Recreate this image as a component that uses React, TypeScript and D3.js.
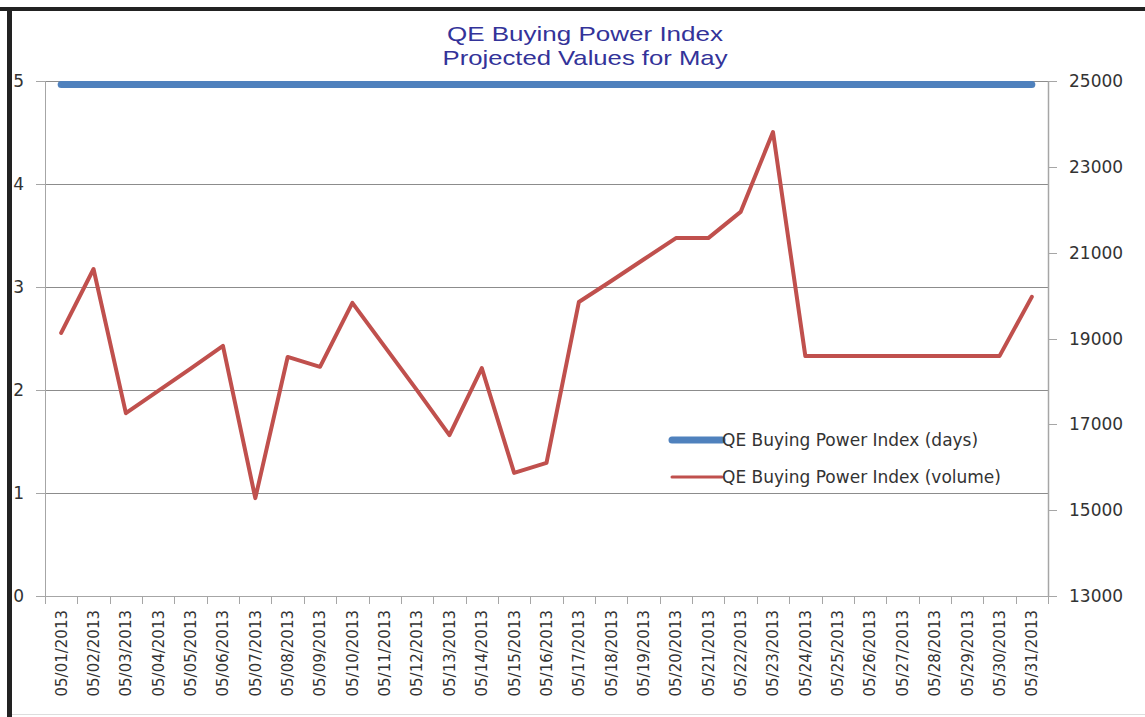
import * as d3 from "d3";

const dates = [
  "05/01/2013", "05/02/2013", "05/03/2013", "05/04/2013", "05/05/2013",
  "05/06/2013", "05/07/2013", "05/08/2013", "05/09/2013", "05/10/2013",
  "05/11/2013", "05/12/2013", "05/13/2013", "05/14/2013", "05/15/2013",
  "05/16/2013", "05/17/2013", "05/18/2013", "05/19/2013", "05/20/2013",
  "05/21/2013", "05/22/2013", "05/23/2013", "05/24/2013", "05/25/2013",
  "05/26/2013", "05/27/2013", "05/28/2013", "05/29/2013", "05/30/2013",
  "05/31/2013",
];

// QE Buying Power Index (days) - left axis
const days = [
  5, 5, 5, 5, 5, 5, 5, 5, 5, 5, 5, 5, 5, 5, 5, 5,
  5, 5, 5, 5, 5, 5, 5, 5, 5, 5, 5, 5, 5, 5, 5,
];

// QE Buying Power Index (volume) - right axis
const volume = [
  19130, 20620, 17260, 17780, 18300, 18830, 15280, 18570, 18340, 19830,
  18810, 17790, 16750, 18310, 15870, 16100, 19850, 20340, 20840, 21340,
  21340, 21950, 23810, 18590, 18590, 18590, 18590, 18590, 18590, 18590,
  19970,
];

const leftTicks = [0, 1, 2, 3, 4, 5];
const rightTicks = [13000, 15000, 17000, 19000, 21000, 23000, 25000];

const titleLines = ["QE Buying Power Index", "Projected Values for May"];
const seriesNames = [
  "QE Buying Power Index (days)",
  "QE Buying Power Index (volume)",
];

const W = 1145;
const H = 717;
const plot = { left: 45, right: 1048, top: 81, bottom: 596 };
const font = "'DejaVu Sans', Verdana, sans-serif";
const blue = "#4f81bd";
const red = "#c0504d";

export default function App() {
  const x = d3
    .scaleBand()
    .domain(dates)
    .range([plot.left, plot.right])
    .padding(0);
  const cx = (d) => x(d) + x.bandwidth() / 2;

  const yL = d3.scaleLinear().domain([0, 5]).range([plot.bottom, plot.top]);
  const yR = d3
    .scaleLinear()
    .domain([13000, 25000])
    .range([plot.bottom, plot.top]);

  const daysLine = d3
    .line()
    .x((_, i) => cx(dates[i]))
    .y((d) => yL(d));
  const volLine = d3
    .line()
    .x((_, i) => cx(dates[i]))
    .y((d) => yR(d));

  const boundaries = dates.map((d) => x(d)).concat([plot.right]);

  return (
    <svg
      width={W}
      height={H}
      style={{ position: "absolute", left: 0, top: 0, background: "#fff" }}
    >
      {/* frame */}
      <line x1={0} x2={W} y1={9} y2={9} stroke="#222" strokeWidth={4} />
      <line x1={9.5} x2={9.5} y1={7} y2={H} stroke="#222" strokeWidth={5} />
      <line x1={12} x2={W} y1={714.5} y2={714.5} stroke="#ddd" strokeWidth={1} />

      {/* title */}
      {titleLines.map((t, i) => (
        <text
          key={t}
          x={585}
          y={41 + i * 23.5}
          textAnchor="middle"
          fontFamily="'Liberation Sans', Arial, sans-serif"
          fontSize={21}
          textLength={i === 0 ? 276 : 285}
          lengthAdjust="spacingAndGlyphs"
          fill="#333399"
        >
          {t}
        </text>
      ))}

      {/* gridlines */}
      {leftTicks.slice(1).map((t) => (
        <line
          key={t}
          x1={plot.left}
          x2={plot.right}
          y1={Math.round(yL(t)) + 0.5}
          y2={Math.round(yL(t)) + 0.5}
          stroke="#8c8c8c"
        />
      ))}

      {/* left axis */}
      <line
        x1={plot.left + 0.5}
        x2={plot.left + 0.5}
        y1={plot.top}
        y2={plot.bottom}
        stroke="#a6a6a6"
      />
      {leftTicks.map((t) => (
        <g key={t}>
          <line
            x1={plot.left - 9}
            x2={plot.left}
            y1={Math.round(yL(t)) + 0.5}
            y2={Math.round(yL(t)) + 0.5}
            stroke="#a6a6a6"
          />
          <text
            x={24}
            y={yL(t)}
            dy="0.36em"
            textAnchor="end"
            fontFamily={font}
            fontSize={17}
            fill="#333"
          >
            {t}
          </text>
        </g>
      ))}

      {/* right axis */}
      <line
        x1={plot.right + 0.5}
        x2={plot.right + 0.5}
        y1={plot.top}
        y2={plot.bottom}
        stroke="#a6a6a6"
        strokeWidth={1.5}
      />
      {rightTicks.map((t) => (
        <g key={t}>
          <line
            x1={plot.right}
            x2={plot.right + 9}
            y1={Math.round(yR(t)) + 0.5}
            y2={Math.round(yR(t)) + 0.5}
            stroke="#a6a6a6"
          />
          <text
            x={1069}
            y={yR(t)}
            dy="0.36em"
            textAnchor="start"
            fontFamily={font}
            fontSize={17}
            fill="#333"
          >
            {t}
          </text>
        </g>
      ))}

      {/* x axis */}
      <line
        x1={plot.left - 9}
        x2={plot.right + 9}
        y1={plot.bottom + 0.5}
        y2={plot.bottom + 0.5}
        stroke="#a6a6a6"
      />
      {boundaries.map((b, i) => (
        <line
          key={i}
          x1={Math.round(b) + 0.5}
          x2={Math.round(b) + 0.5}
          y1={plot.bottom}
          y2={plot.bottom + 8}
          stroke="#a6a6a6"
        />
      ))}
      {dates.map((d) => (
        <text
          key={d}
          transform={`translate(${cx(d)},610) rotate(-90)`}
          dy="0.36em"
          textAnchor="end"
          fontFamily={font}
          fontSize={15}
          fill="#333"
        >
          {d}
        </text>
      ))}

      {/* series */}
      <path
        d={daysLine(days)}
        fill="none"
        stroke={blue}
        strokeWidth={7}
        strokeLinecap="round"
        transform="translate(0,3.5)"
      />
      <path
        d={volLine(volume)}
        fill="none"
        stroke={red}
        strokeWidth={4}
        strokeLinejoin="round"
        strokeLinecap="round"
      />

      {/* legend */}
      {seriesNames.map((s, i) => (
        <g key={s} transform={`translate(672,${440 + i * 37})`}>
          <line
            x1={0}
            x2={50}
            y1={0}
            y2={0}
            stroke={i === 0 ? blue : red}
            strokeWidth={i === 0 ? 7 : 3}
            strokeLinecap="round"
          />
          <text
            x={50}
            y={0}
            dy="0.36em"
            fontFamily={font}
            fontSize={17}
            fill="#333"
          >
            {s}
          </text>
        </g>
      ))}
    </svg>
  );
}
